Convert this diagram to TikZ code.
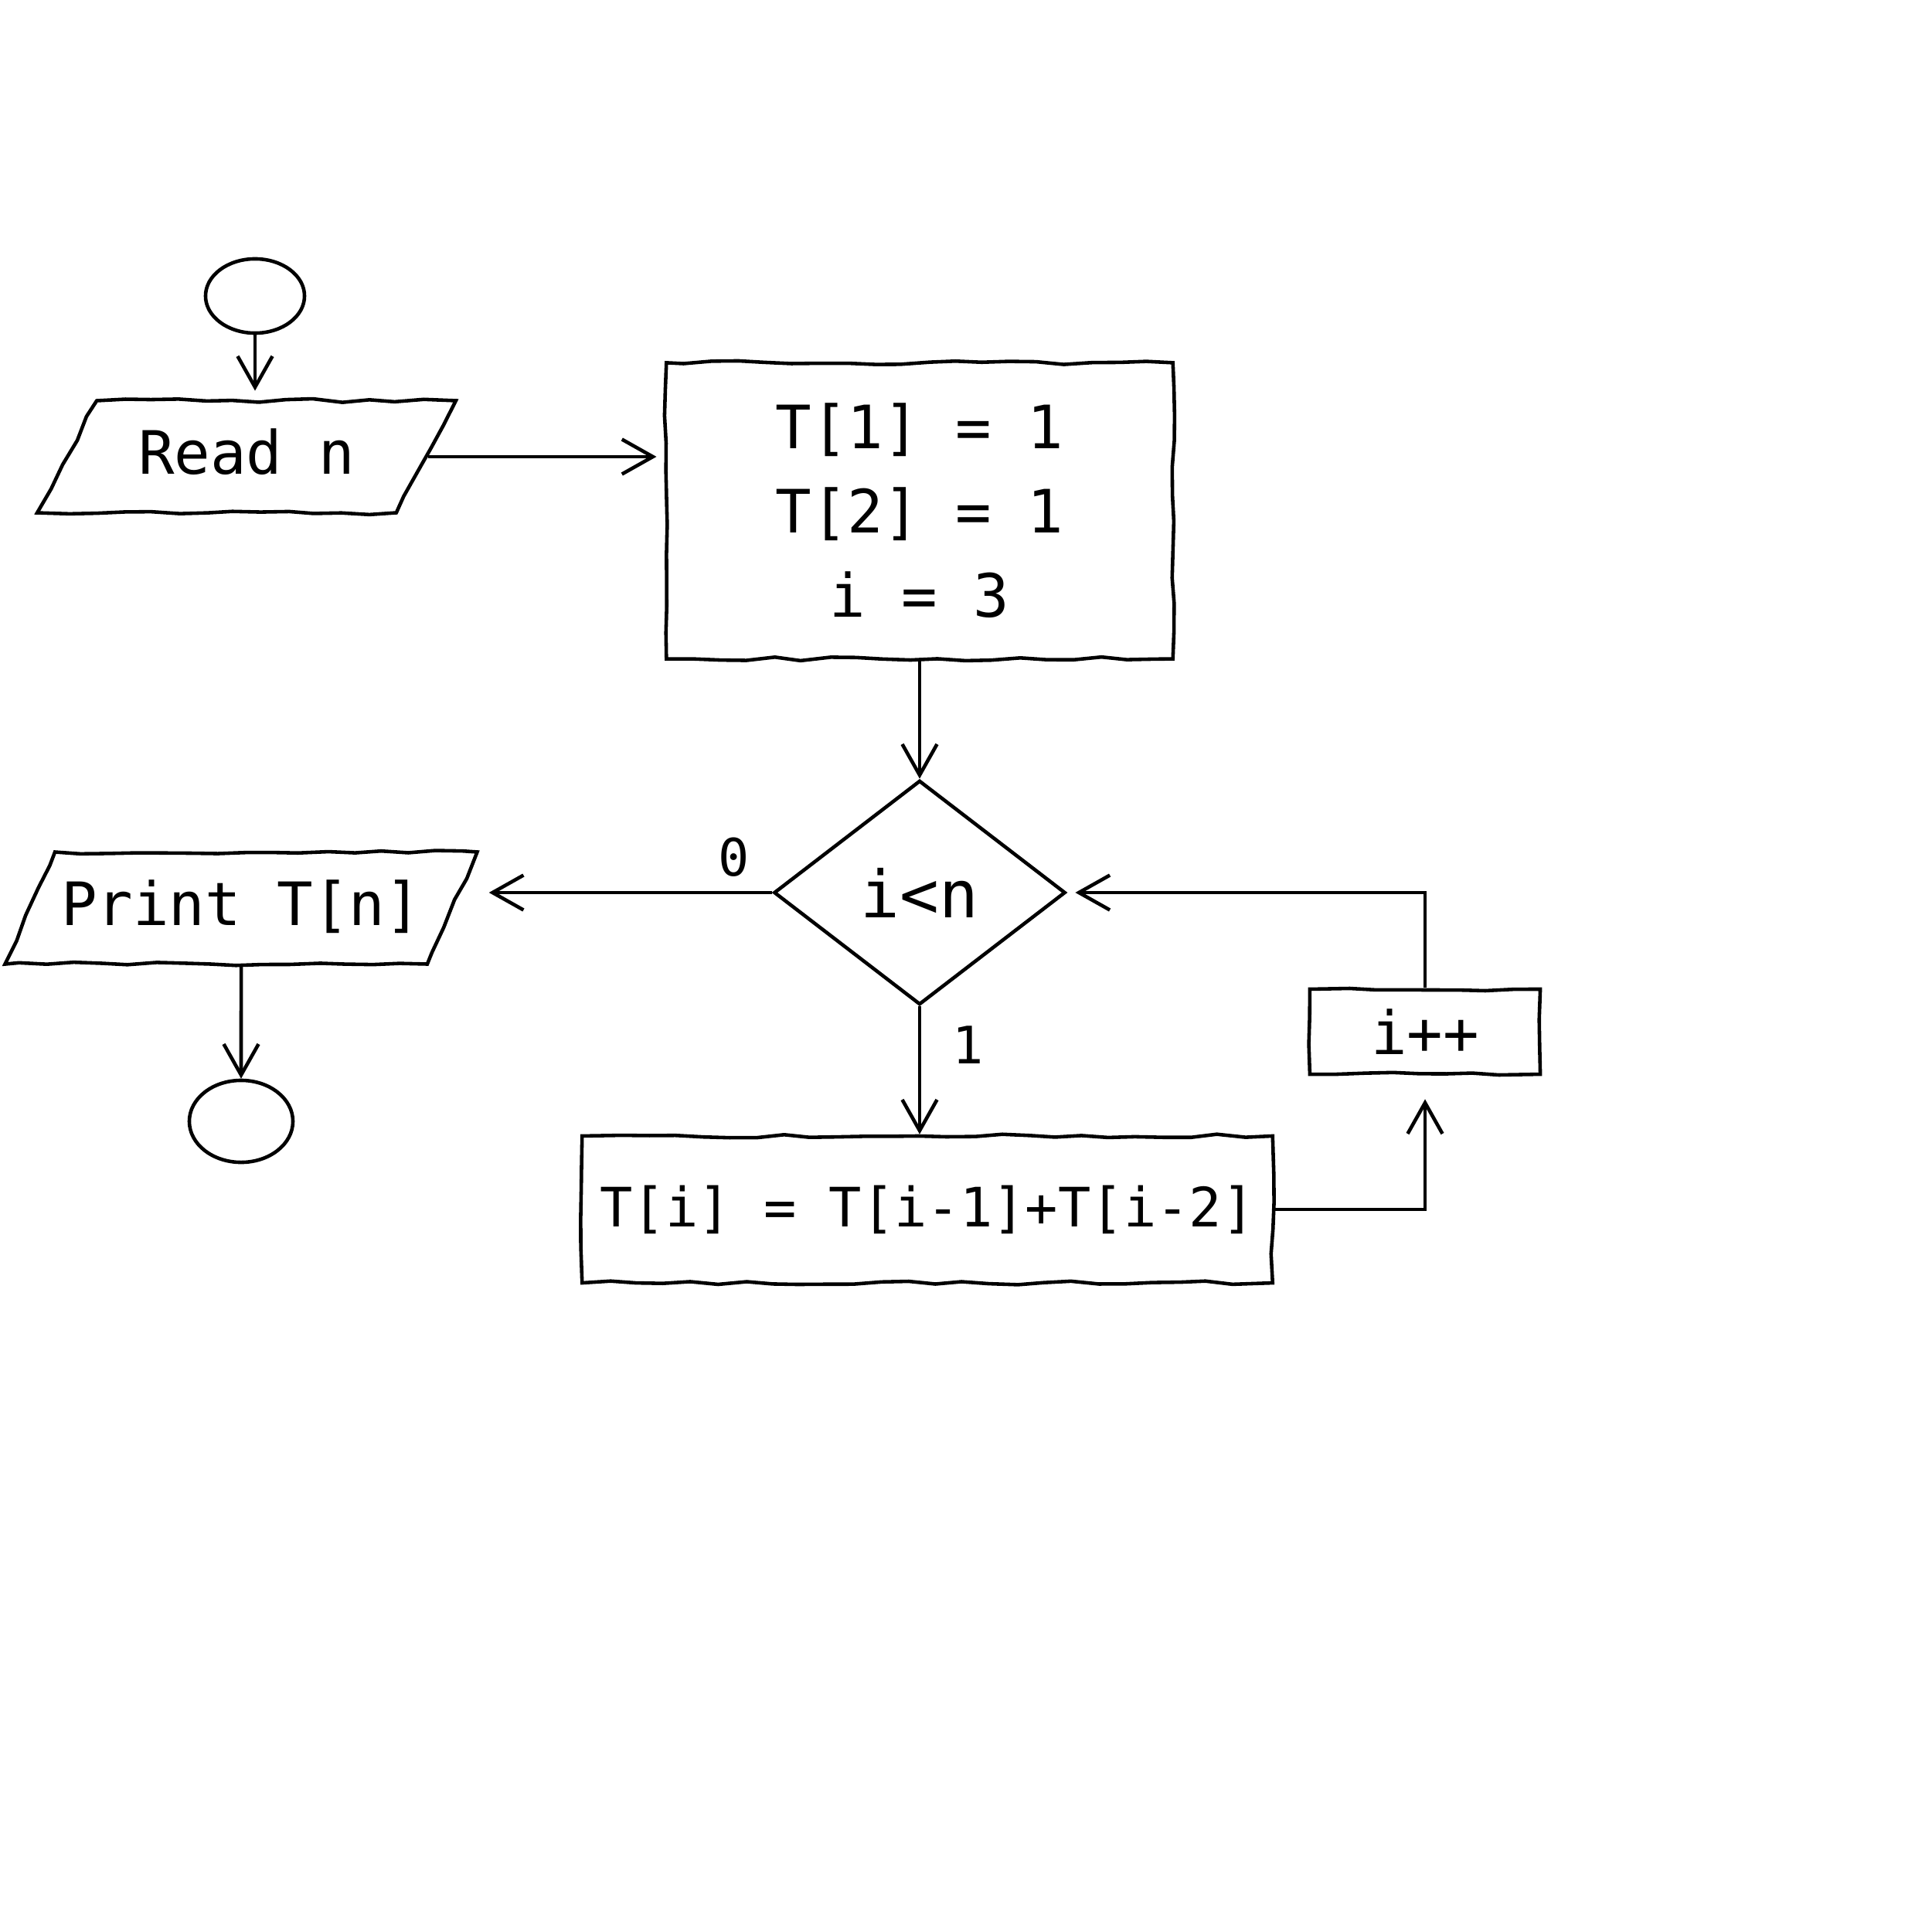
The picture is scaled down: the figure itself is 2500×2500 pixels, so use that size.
\documentclass[tikz,border=0pt]{standalone}
\usepackage{fontspec}
\setmonofont{DejaVu Sans Mono}
\usetikzlibrary{arrows.meta,shapes.geometric,decorations.pathmorphing}
\begin{document}
\begin{tikzpicture}[x=0.01cm,y=-0.01cm,
  line width=1.3pt,
  wobbly/.style={decorate,decoration={random steps,segment length=10pt,amplitude=0.7pt}},
  terminal/.style={draw,ellipse,inner sep=0pt},
  io/.style={draw,trapezium,text height=0.55cm,text depth=0.1cm,inner ysep=0.4cm,
    font=\ttfamily\fontsize{22}{26}\selectfont,wobbly},
  process/.style={draw,rectangle,inner sep=0pt,
    font=\ttfamily\fontsize{22}{31}\selectfont,wobbly},
  decision/.style={draw,diamond,inner sep=0pt,aspect=1.3,
    font=\ttfamily\fontsize{24}{28}\selectfont},
  flow/.style={-{Straight Barb[length=4mm,width=4.5mm]}},
  lbl/.style={font=\ttfamily\fontsize{19}{22}\selectfont}
]
\useasboundingbox (0,0) rectangle (2500,2500);
\pgfmathsetseed{42}

% shapes
\node[terminal,minimum width=1.28cm,minimum height=0.96cm] (start) at (330,383) {};
\node[io,trapezium left angle=62,trapezium right angle=118,inner xsep=0.54cm]
      (read) at (319,591) {Read n};
\node[process,minimum width=6.55cm,minimum height=3.83cm,align=center]
      (init) at (1190,661) {T[1] = 1\\T[2] = 1\\i = 3};
\node[decision,minimum width=3.77cm,minimum height=2.9cm] (cond) at (1190,1155) {i<n};
\node[io,trapezium left angle=66,trapezium right angle=114,inner xsep=0.08cm]
      (print) at (312,1175) {Print T[n]};
\node[terminal,minimum width=1.34cm,minimum height=1.06cm] (stop) at (312,1451) {};
\node[process,minimum width=8.93cm,minimum height=1.9cm,
      font=\ttfamily\fontsize{20}{24}\selectfont] (body) at (1200,1565) {T[i] = T[i-1]+T[i-2]};
\node[process,minimum width=2.98cm,minimum height=1.1cm] (incr) at (1844,1335) {i++};

% connectors
\draw[flow,shorten >=3pt] (start.south) -- (start.south |- read.north);
\draw[flow,shorten >=3pt] (read.east) -- (read.east -| init.west);
\draw[flow] (init.south) -- (cond.north);
\draw[flow,shorten >=0.45cm] (cond.west) -- node[lbl,above,pos=0.12,yshift=2pt] {0} (cond.west -| print.east);
\draw[flow] (print.south) -- (stop.north);
\draw[flow] (cond.south) -- node[lbl,right,pos=0.3,xshift=8pt] {1} (cond.south |- body.north);
\draw[flow,shorten >=0.3cm] (body.east) -| (incr.south);
\draw[flow,shorten >=3pt] (incr.north) |- (cond.east);
\end{tikzpicture}
\end{document}
